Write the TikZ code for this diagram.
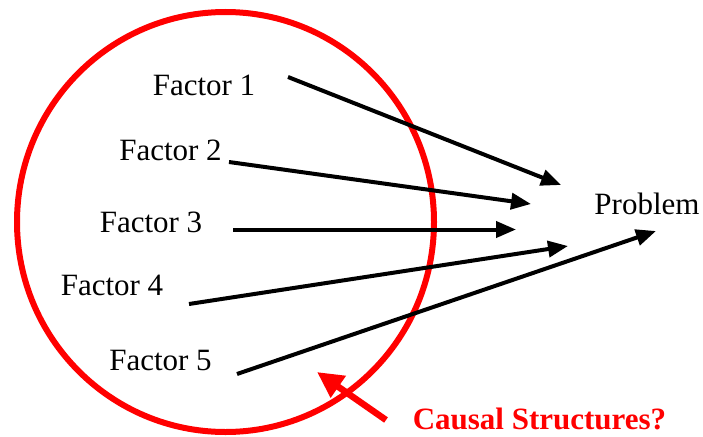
\documentclass[tikz,border=0pt]{standalone}
\usepackage{fontspec}
\setmainfont{Liberation Serif}
\usetikzlibrary{arrows.meta}
\tikzset{
  label/.style={anchor=base, inner sep=0pt, font=\fontsize{31}{37}\selectfont},
  redlabel/.style={label, text=red, font=\fontsize{31}{37}\selectfont\bfseries},
  cause/.style={line width=4pt, -{Triangle[length=20pt,width=16pt]}},
  hint/.style={red, line width=6.5pt, -{Triangle[length=26pt,width=25pt]}},
  scopering/.style={red, line width=6pt}
}
\begin{document}
\begin{tikzpicture}[x=1pt, y=-1pt]
  \useasboundingbox (0,0) rectangle (703,436);

  % the enclosing ring round the factors
  \draw[scopering] (225.5,222) ellipse [x radius=208.5, y radius=210];

  % labels
  \node[label] (f1) at (204,95) {Factor 1};
  \node[label] (f2) at (170.5,160) {Factor 2};
  \node[label] (f3) at (151,232) {Factor 3};
  \node[label] (f4) at (112,295) {Factor 4};
  \node[label] (f5) at (160.5,370) {Factor 5};
  \node[label] (prob) at (647,214) {Problem};
  \node[redlabel] (cs) at (539.5,429) {Causal Structures?};

  % arrow ends
  \coordinate (s1) at (288,77);
  \coordinate (s2) at (229,162);
  \coordinate (s3) at (233,229.5);
  \coordinate (s4) at (189,304);
  \coordinate (s5) at (237,374);
  \coordinate (e1) at (561,185);
  \coordinate (e2) at (531,204);
  \coordinate (e3) at (516,229.5);
  \coordinate (e4) at (568,246);
  \coordinate (e5) at (656,231);
  \coordinate (hs) at (386,420);
  \coordinate (he) at (317,372);

  % causal links toward the problem
  \draw[cause] (s1) -- (e1);
  \draw[cause] (s2) -- (e2);
  \draw[cause] (s3) -- (e3);
  \draw[cause] (s4) -- (e4);
  \draw[cause] (s5) -- (e5);

  % pointer to the ring
  \draw[hint] (hs) -- (he);
\end{tikzpicture}
\end{document}
